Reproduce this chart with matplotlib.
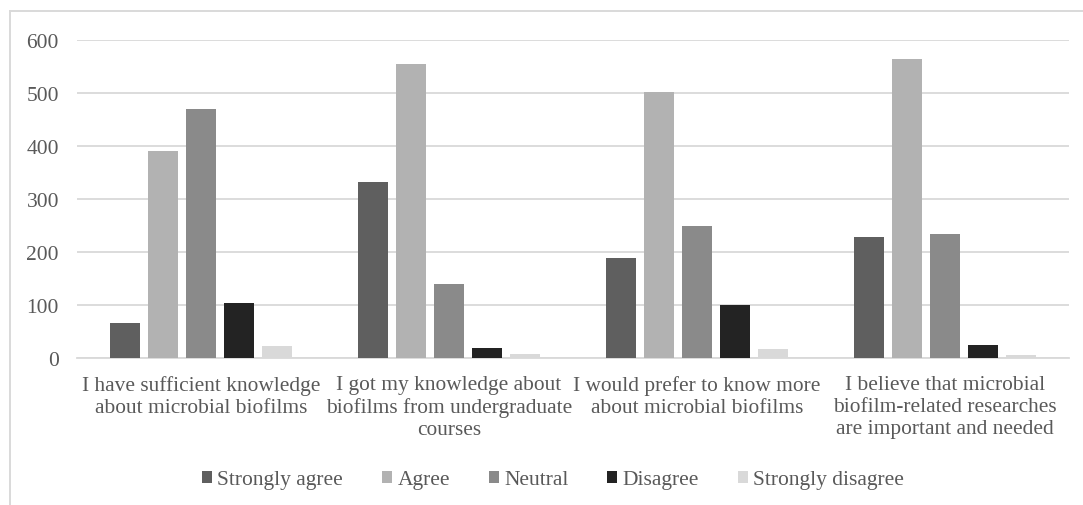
import numpy as np
import matplotlib.pyplot as plt
from matplotlib.lines import Line2D

plt.rcParams['font.family'] = ['Liberation Serif', 'DejaVu Serif']

statements = [
    "I have sufficient knowledge\nabout microbial biofilms",
    "I got my knowledge about\nbiofilms from undergraduate\ncourses",
    "I would prefer to know more\nabout microbial biofilms",
    "I believe that microbial\nbiofilm-related researches\nare important and needed",
]
responses = ["Strongly agree", "Agree", "Neutral", "Disagree", "Strongly disagree"]
strongly_agree = [67, 332, 188, 228]
agree = [390, 554, 501, 563]
neutral = [469, 140, 249, 234]
disagree = [105, 20, 100, 25]
strongly_disagree = [23, 8, 18, 6]
colors = ["#5f5f5f", "#b2b2b2", "#8a8a8a", "#232323", "#d9d9d9"]

series = [strongly_agree, agree, neutral, disagree, strongly_disagree]

W, H = 1083, 506
fig = plt.figure(figsize=(W / 100, H / 100), dpi=100)
ax = fig.add_axes([77 / W, 1 - 359.3 / H, (1069 - 77) / W, (359.3 - 40.7) / H])

x = np.arange(len(statements))
step = 0.153
width = 0.121
for i, (vals, name, c) in enumerate(zip(series, responses, colors)):
    ax.bar(x + (i - 2) * step, vals, width, color=c, label=name, zorder=3)

ax.set_xlim(-0.5, len(statements) - 0.5)
ax.set_ylim(0, 600)
ax.set_yticks(range(0, 601, 100))
ax.yaxis.grid(True, color="#d9d9d9", linewidth=1.3, zorder=0)
ax.set_axisbelow(True)
for side in ["top", "right", "left"]:
    ax.spines[side].set_visible(False)
ax.spines["bottom"].set_color("#d9d9d9")
ax.spines["bottom"].set_linewidth(1.3)
ax.tick_params(length=0, colors="#595959", labelsize=15.5)
ax.tick_params(axis="y", pad=13)
ax.tick_params(axis="x", pad=12)
ax.set_xticks(x)
ax.set_xticklabels(statements, fontsize=15.4, linespacing=1.2)

fig.legend(loc="center", bbox_to_anchor=(553 / W, 1 - 481 / H), ncol=5,
           frameon=False, fontsize=15.5, labelcolor="#595959",
           handlelength=0.47, handleheight=0.47, handletextpad=0.25,
           columnspacing=1.8)

# frame lines along the top and left edge of the chart area
frame = dict(transform=fig.transFigure, color="#d9d9d9", linewidth=1.4)
fig.add_artist(Line2D([10 / W, 1], [1 - 12 / H, 1 - 12 / H], **frame))
fig.add_artist(Line2D([10 / W, 10 / W], [0, 1 - 12 / H], **frame))

fig.savefig("out.png", dpi=100)
